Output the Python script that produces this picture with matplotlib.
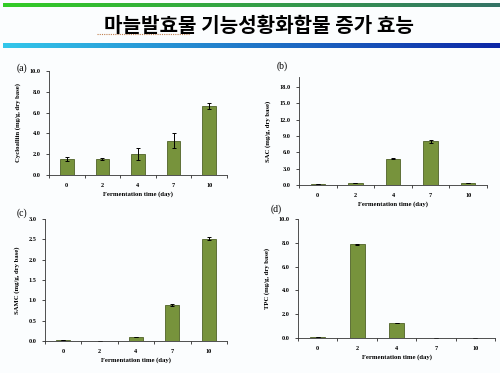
import numpy as np
import matplotlib
matplotlib.use("Agg")
import matplotlib.pyplot as plt
from matplotlib.lines import Line2D

# data
days = ["0", "2", "4", "7", "10"]

cyclo = [1.50, 1.55, 2.00, 3.30, 6.60]
cyclo_err = [0.20, 0.12, 0.55, 0.70, 0.30]

sac = [0.20, 0.30, 4.85, 8.00, 0.30]
sac_err = [0.0, 0.0, 0.10, 0.30, 0.0]

samc = [0.03, 0.01, 0.11, 0.88, 2.52]
samc_err = [0.0, 0.0, 0.0, 0.02, 0.03]

tpc = [0.10, 7.87, 1.25, 0.0, 0.0]
tpc_err = [0.0, 0.05, 0.0, 0.0, 0.0]

title = "마늘발효물 기능성황화합물 증가 효능"

W, H = 500, 373
fig = plt.figure(figsize=(W / 100, H / 100), dpi=100, facecolor="#fbfdfe")


def px_axes(x0, y0, x1, y1):
    return fig.add_axes([x0 / W, 1 - y1 / H, (x1 - x0) / W, (y1 - y0) / H])


# gradient stripes on top of the slide
def stripe(y0, y1, c_left, c_right):
    ax = px_axes(3, y0, 500, y1)
    t = np.linspace(0, 1, 256)[None, :, None]
    a = np.array(c_left)[None, None, :]
    b = np.array(c_right)[None, None, :]
    ax.imshow(a * (1 - t) + b * t, aspect="auto", extent=[0, 1, 0, 1])
    ax.axis("off")


stripe(2.5, 7.5, (0.20, 0.80, 0.15), (0.20, 0.45, 0.40))
stripe(42.5, 48.5, (0.20, 0.78, 0.92), (0.05, 0.15, 0.65))

fig.text(0.517, 0.932, title, ha="center", va="center", fontsize=14.5,
         fontweight="bold", family=["Noto Sans CJK KR", "DejaVu Sans"])
fig.add_artist(Line2D([97 / W, 190 / W], [1 - 34 / H, 1 - 34 / H],
                      transform=fig.transFigure, color="#c08050",
                      linestyle=(0, (1, 1)), linewidth=0.8))

bar_color = "#77933c"
edge_color = "#4f6228"
serif = "Liberation Serif"


def panel(box, vals, errs, ymax, yticks, ylabel, tag, tagpos):
    ax = px_axes(*box)
    ax.set_facecolor("none")
    x = np.arange(len(days))
    ax.bar(x, vals, width=0.38, color=bar_color, edgecolor=edge_color, linewidth=0.6)
    ax.errorbar(x, vals, yerr=errs, fmt="none", ecolor="black",
                elinewidth=0.7, capsize=1.3, capthick=0.7)
    ax.set_xlim(-0.5, 4.5)
    ax.set_ylim(0, ymax)
    ax.set_yticks(yticks)
    ax.set_yticklabels([f"{v:.1f}" for v in yticks])
    ax.set_xticks(x)
    ax.set_xticklabels(days)
    ax.set_xticks(np.arange(-0.5, 5.0, 1.0), minor=True)
    ax.tick_params(axis="x", which="major", length=0, pad=6)
    ax.tick_params(axis="x", which="minor", length=2, width=0.5)
    ax.tick_params(axis="y", length=2, width=0.5, pad=4)
    for lab in ax.get_xticklabels() + ax.get_yticklabels():
        lab.set_fontsize(4.5)
        lab.set_fontweight("bold")
        lab.set_family(serif)
    for s in ["top", "right"]:
        ax.spines[s].set_visible(False)
    for s in ["left", "bottom"]:
        ax.spines[s].set_linewidth(0.6)
        ax.spines[s].set_color("#333333")
    ax.set_xlabel("Fermentation time (day)", fontsize=4.8, fontweight="bold",
                  family=serif, labelpad=2)
    ax.set_ylabel(ylabel, fontsize=4.8, fontweight="bold", family=serif, labelpad=6)
    fig.text(tagpos[0] / W, 1 - tagpos[1] / H, tag, fontsize=7, family=serif,
             ha="center", va="center")
    return ax


panel((49, 71, 227, 175), cyclo, cyclo_err, 10, np.arange(0, 10.1, 2),
      "Cycloalliin (mg/g, dry base)", "(a)", (22, 68))
panel((299, 77, 487, 185), sac, sac_err, 19.8, np.arange(0, 18.1, 3),
      "SAC (mg/g, dry base)", "(b)", (282, 66))
panel((45, 219, 227, 341), samc, samc_err, 3.0, np.arange(0, 3.01, 0.5),
      "SAMC (mg/g, dry base)", "(c)", (22, 213))
panel((298, 219, 495, 338), tpc, tpc_err, 10, np.arange(0, 10.1, 2),
      "TPC (mg/g, dry base)", "(d)", (276, 209))

fig.savefig("out.png", dpi=100, facecolor=fig.get_facecolor())
